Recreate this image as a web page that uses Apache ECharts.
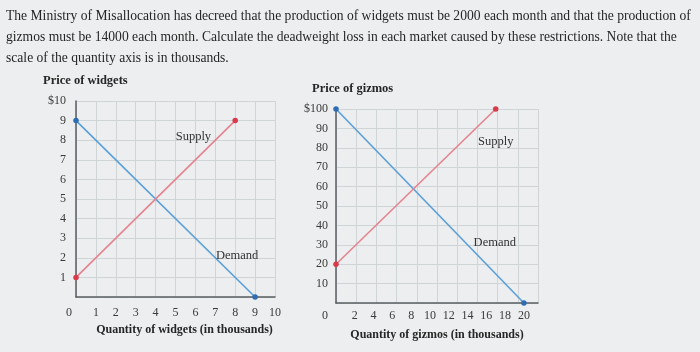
<!DOCTYPE html>
<html>
<head>
    <meta charset="utf-8">
    <title>Deadweight loss</title>
    <script src="https://cdn.jsdelivr.net/npm/echarts@6/dist/echarts.min.js"></script>
    <style>
        html, body { margin: 0; padding: 0; background: #eceeef; }
    </style>
</head>
<body>
    <div id="main" style="width: 700px;height:352px;"></div>
    <script type="text/javascript">
        var myChart = echarts.init(document.getElementById('main'));

        // problem text, one entry per line as in the picture
        var questionLines = [
            'The Ministry of Misallocation has decreed that the production of widgets must be 2000 each month and that the production of',
            'gizmos must be 14000 each month. Calculate the deadweight loss in each market caused by these restrictions. Note that the',
            'scale of the quantity axis is in thousands.'
        ];

        // widgets market (quantity in thousands, price in $)
        var widgetDemand = [[0, 9], [9, 0]];
        var widgetSupply = [[0, 1], [8, 9]];
        var widgetPriceTicks = [1, 2, 3, 4, 5, 6, 7, 8, 9, 10];
        var widgetQtyTicks = [0, 1, 2, 3, 4, 5, 6, 7, 8, 9, 10];

        // gizmos market
        var gizmoDemand = [[0, 100], [20, 0]];
        var gizmoSupply = [[0, 20], [17, 100]];
        var gizmoPriceTicks = [10, 20, 30, 40, 50, 60, 70, 80, 90, 100];
        var gizmoQtyTicks = [0, 2, 4, 6, 8, 10, 12, 14, 16, 18, 20];

        var serif = 'Liberation Serif';
        var inkColor = '#262626';
        var gridColor = '#cfd4d7';
        var axisColor = '#5a5d60';
        var demandColor = '#5a9fd8';
        var demandDot = '#2f6db3';
        var supplyColor = '#e5838e';
        var supplyDot = '#d83a4c';

        function qtyLabel(ticks) {
            return function (v) {
                if (ticks.indexOf(v) < 0) return '';
                return v === 0 ? '{z|0}' : String(v);
            };
        }
        function priceLabel(ticks) {
            var top = ticks[ticks.length - 1];
            return function (v) {
                if (ticks.indexOf(v) < 0) return '';
                return v === top ? '$' + v : String(v);
            };
        }
        var labelFont = { fontFamily: serif, fontSize: 12, color: '#3a3a3a' };

        function curve(name, data, color, dot, xi, yi, noteCoord) {
            return {
                type: 'line',
                name: name,
                xAxisIndex: xi,
                yAxisIndex: yi,
                data: data,
                symbol: 'circle',
                symbolSize: 5.5,
                showSymbol: true,
                itemStyle: { color: dot },
                lineStyle: { color: color, width: 1.6 },
                silent: true,
                markPoint: {
                    symbol: 'circle',
                    symbolSize: 0,
                    label: {
                        show: true,
                        position: 'inside',
                        formatter: name,
                        fontFamily: serif,
                        fontSize: 12.5,
                        color: '#333'
                    },
                    data: [{ coord: noteCoord }]
                }
            };
        }

        var option = {
            backgroundColor: '#eceeef',
            animation: false,
            title: [{
                text: questionLines.join('\n'),
                left: 1,
                top: 1,
                textStyle: {
                    fontFamily: serif,
                    fontWeight: 'normal',
                    fontSize: 13.6,
                    lineHeight: 21,
                    color: inkColor
                }
            }, {
                text: 'Price of widgets',
                left: 38,
                top: 69,
                textStyle: { fontFamily: serif, fontWeight: 'bold', fontSize: 12.5, color: inkColor }
            }, {
                text: 'Price of gizmos',
                left: 307,
                top: 77,
                textStyle: { fontFamily: serif, fontWeight: 'bold', fontSize: 12.5, color: inkColor }
            }],
            grid: [
                { left: 76, top: 101, width: 199, height: 196 },
                { left: 336, top: 109, width: 202, height: 194 }
            ],
            xAxis: [{
                gridIndex: 0, type: 'value', position: 'bottom', min: 0, max: 10, interval: 1,
                axisLine: { lineStyle: { color: axisColor, width: 1.5 } },
                axisTick: { show: false },
                splitLine: { lineStyle: { color: gridColor } },
                axisLabel: Object.assign({ margin: 10, formatter: qtyLabel(widgetQtyTicks), rich: { z: Object.assign({}, labelFont, { padding: [0, 14, 0, 0] }) } }, labelFont),
                name: 'Quantity of widgets (in thousands)',
                nameLocation: 'middle',
                nameGap: 26,
                nameTextStyle: { fontFamily: serif, fontWeight: 'bold', fontSize: 12, color: inkColor, padding: [0, 0, 0, 18] }
            }, {
                // grid columns of the gizmo chart
                gridIndex: 1, type: 'value', position: 'bottom', min: 0, max: 21.5, interval: 2.15,
                axisLine: { show: false },
                axisTick: { show: false },
                axisLabel: { show: false },
                splitLine: { lineStyle: { color: gridColor } }
            }, {
                gridIndex: 1, type: 'value', position: 'bottom', min: 0, max: 21.5, interval: 2,
                axisLine: { lineStyle: { color: axisColor, width: 1.5 } },
                axisTick: { show: false },
                splitLine: { show: false },
                axisLabel: Object.assign({ margin: 7, formatter: qtyLabel(gizmoQtyTicks), rich: { z: Object.assign({}, labelFont, { padding: [0, 22, 0, 0] }) } }, labelFont),
                name: 'Quantity of gizmos (in thousands)',
                nameLocation: 'middle',
                nameGap: 26,
                nameTextStyle: { fontFamily: serif, fontWeight: 'bold', fontSize: 12, color: inkColor }
            }],
            yAxis: [{
                gridIndex: 0, type: 'value', min: 0, max: 10, interval: 1,
                axisLine: { show: true, lineStyle: { color: axisColor, width: 1.5 } },
                axisTick: { show: false },
                splitLine: { lineStyle: { color: gridColor } },
                axisLabel: Object.assign({ margin: 10, formatter: priceLabel(widgetPriceTicks) }, labelFont)
            }, {
                gridIndex: 1, type: 'value', min: 0, max: 100, interval: 10,
                axisLine: { show: true, lineStyle: { color: axisColor, width: 1.5 } },
                axisTick: { show: false },
                splitLine: { lineStyle: { color: gridColor } },
                axisLabel: Object.assign({ margin: 8, formatter: priceLabel(gizmoPriceTicks) }, labelFont)
            }],
            series: [
                curve('Demand', widgetDemand, demandColor, demandDot, 0, 0, [8.1, 2.1]),
                curve('Supply', widgetSupply, supplyColor, supplyDot, 0, 0, [5.9, 8.2]),
                curve('Demand', gizmoDemand, demandColor, demandDot, 2, 1, [16.9, 31]),
                curve('Supply', gizmoSupply, supplyColor, supplyDot, 2, 1, [17, 83])
            ]
        };

        myChart.setOption(option);
    </script>
</body>
</html>
